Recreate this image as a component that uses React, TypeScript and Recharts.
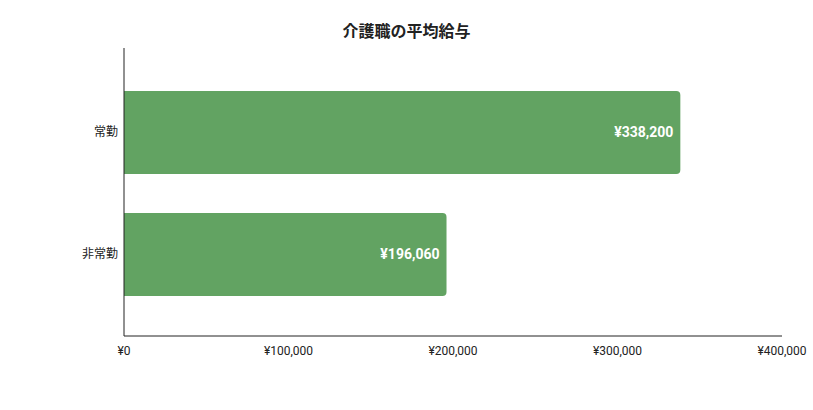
import { BarChart, Bar, XAxis, YAxis, LabelList } from "recharts";

const categories = ["常勤", "非常勤"];
const salaries = [338200, 196060];
const xTicks = [0, 100000, 200000, 300000, 400000];

const yen = (v: number) => "¥" + v.toLocaleString("en-US");

export default function App() {
  const data = categories.map((name, i) => ({ name, value: salaries[i] }));

  return (
    <div style={{ position: "absolute", left: 0, top: 0, width: 813, height: 410, background: "#fff", fontFamily: "Roboto, 'Noto Sans CJK JP', sans-serif" }}>
      <div style={{ position: "absolute", top: 18, left: 0, width: 813, textAlign: "center", fontSize: 16, fontWeight: 700, color: "#222" }}>
        介護職の平均給与
      </div>
      <BarChart width={813} height={410} data={data} layout="vertical" margin={{ top: 48, right: 31, bottom: 44, left: 0 }}>
        <XAxis
          type="number"
          domain={[0, 400000]}
          ticks={xTicks}
          tickFormatter={yen}
          tickLine={false}
          tickMargin={4}
          axisLine={{ stroke: "#222" }}
          tick={{ fill: "#222", fontSize: 12 }}
          height={30}
        />
        <YAxis
          type="category"
          dataKey="name"
          width={124}
          tickLine={false}
          tickMargin={0}
          axisLine={{ stroke: "#222" }}
          tick={{ fill: "#222", fontSize: 12 }}
          padding={{ top: 23, bottom: 21 }}
        />
        <Bar dataKey="value" fill="#62a362" barSize={83} radius={[0, 4, 4, 0]} isAnimationActive={false}>
          <LabelList dataKey="value" position="insideRight" offset={7} formatter={(v: number) => yen(v)} fill="#fff" fontSize={14} fontWeight={700} />
        </Bar>
      </BarChart>
    </div>
  );
}
